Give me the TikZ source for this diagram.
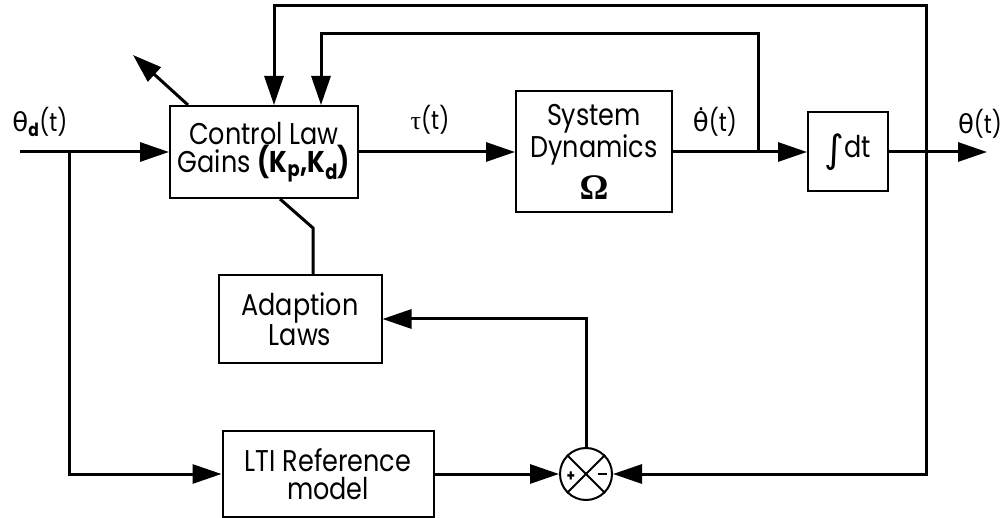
\documentclass[tikz,border=0pt]{standalone}
\usepackage{fontspec}
\setmainfont[FakeStretch=0.85]{Poppins}
\newfontfamily\gk{DejaVu Sans}
\newfontfamily\srf{Liberation Serif}
\usetikzlibrary{arrows.meta}
\begin{document}
\begin{tikzpicture}[x=1pt,y=-1pt,
  txt/.style={font=\fontsize{30}{28}\selectfont},
  box/.style={draw, line width=2pt, inner sep=0pt, align=center, txt},
  conn/.style={line width=3pt},
  arr/.style={conn, -{Triangle[length=29pt,width=19pt]}},
  lbl/.style={inner sep=0pt, font=\fontsize{26}{28}\selectfont},
  sgn/.style={inner sep=0pt, font=\fontsize{16}{16}\selectfont\bfseries},
]
\useasboundingbox (0,0) rectangle (1007,518);
% blocks
\node[box, minimum width=188pt, minimum height=92pt] (ctrl) at (264,152)
  {Control Law\\Gains \textbf{(K\textsubscript{p},K\textsubscript{d})}};
\node[box, minimum width=156pt, minimum height=121pt] (sys) at (594,152)
  {System\\Dynamics\\[10pt]{\fontsize{36}{36}\srf\bfseries Ω}};
\node[box, minimum width=80pt, minimum height=79pt] (int) at (848,152)
  {\raisebox{-5pt}{\fontsize{38}{38}\gk ∫}dt};
\node[box, minimum width=163pt, minimum height=88pt] (adapt) at (300,319)
  {Adaption\\Laws};
\node[box, minimum width=211pt, minimum height=86pt] (lti) at (328,474)
  {LTI Reference\\model};
\node[circle, draw, line width=2pt, minimum size=52pt, inner sep=0pt] (sum) at (586,474) {};
\draw[line width=1.8pt] (sum.north west) -- (sum.south east);
\draw[line width=1.8pt] (sum.north east) -- (sum.south west);
\node[sgn] (plus) at (571,477) {+};
\node[sgn] (minus) at (602,474) {\rule{9pt}{2.2pt}};
% coordinates
\coordinate (in) at (20,152);
\coordinate (br) at (69,152);
\coordinate (out) at (987,152);
\coordinate (jo) at (926,152);
\coordinate (ji) at (758,152);
\coordinate (t1) at (926,6);
\coordinate (t2) at (758,34);
\coordinate (kink) at (313,228);
\coordinate (tip) at (133,55);
% connectors
\draw[arr] (in) -- (ctrl.west);
\draw[arr] (ctrl.east) -- (sys.west);
\draw[arr] (sys.east) -- (int.west);
\draw[arr] (int.east) -- (out);
\draw[arr] (br) |- (lti.west);
\draw[arr] (lti.east) -- (sum.west);
\draw[arr] (jo) |- (sum.east);
\draw[arr] (sum.north) |- (adapt.east);
\draw[arr] (jo) -- (t1) -| ([xshift=10pt]ctrl.north);
\draw[arr] (ji) -- (t2) -| ([xshift=57pt]ctrl.north);
\draw[conn] ([xshift=16pt]ctrl.south) -- (kink) -- ([xshift=13pt]adapt.north);
\draw[arr] ([xshift=-76pt]ctrl.north) -- (tip);
% labels
\node[lbl] (thd) at (40,122) {{\gk θ}\textsubscript{\textbf{d}}(t)};
\node[lbl] (tau) at (430,120) {{\srf τ}(t)};
\node[lbl] (thdot) at (715,122) {{\gk θ̇}(t)};
\node[lbl] (th) at (980,124) {{\gk θ}(t)};
\end{tikzpicture}
\end{document}
